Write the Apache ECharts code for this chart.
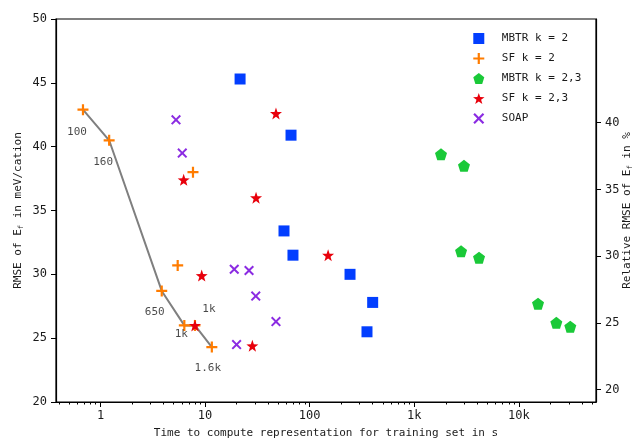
<!DOCTYPE html>
<html>
<head>
<meta charset="utf-8">
<script src="https://cdn.jsdelivr.net/npm/echarts@6/dist/echarts.min.js"></script>
<style>
html,body{margin:0;padding:0;background:#fff;}
#chart{width:641px;height:441px;}
</style>
</head>
<body>
<div id="chart"></div>
<script>
// data: x = time in s, y = RMSE in meV/cation
var mbtr2Time = [21.6, 66.3, 56.8, 69.2, 243, 400, 353];
var mbtr2Rmse = [45.3, 40.9, 33.4, 31.5, 30.0, 27.8, 25.5];

var sf2Time = [0.68, 1.21, 3.85, 6.33, 8.0, 11.6, 7.66, 5.47];
var sf2Rmse = [42.9, 40.5, 28.7, 26.0, 26.0, 24.3, 38.0, 30.7];

var mbtr23Time = [1800, 2985, 2800, 4160, 15240, 22800, 31000];
var mbtr23Rmse = [39.4, 38.5, 31.8, 31.3, 27.7, 26.2, 25.9];

var sf23Time = [47.6, 6.24, 30.7, 9.28, 150, 8.0, 28.3];
var sf23Rmse = [42.6, 37.4, 36.0, 29.9, 31.5, 26.0, 24.4];

var soapTime = [5.27, 6.05, 19.0, 26.3, 30.5, 47.6, 20.0];
var soapRmse = [42.1, 39.5, 30.4, 30.3, 28.3, 26.3, 24.5];

// SF k=2 learning curve (connected points) and its training set sizes
var curveTime = [0.68, 1.21, 3.85, 6.33, 8.0, 11.6];
var curveRmse = [42.9, 40.5, 28.7, 26.0, 26.0, 24.3];

var annoTime = [0.68, 1.21, 3.85, 6.33, 8.0, 11.6];
var annoRmse = [42.9, 40.5, 28.7, 26.0, 26.0, 24.3];
var annoText = ['100', '160', '650', '1k', '1k', '1.6k'];
var annoOffset = [[-6, 22], [-6, 22], [-7, 21], [-3, 9], [14, -16], [-4, 21]];

var xMajor = [1, 10, 100, 1000, 10000];
var xMajorText = ['1', '10', '100', '1k', '10k'];
var yRightTicks = [20, 25, 30, 35, 40];

var xMinor = [];
[0.1, 1, 10, 100, 1000, 10000].forEach(function (d) {
	for (var k = 2; k <= 9; k++) xMinor.push(d * k);
});

function pairs(xs, ys) {
	return xs.map(function (x, i) { return [x, ys[i]]; });
}

var FONT = 'DejaVu Sans Mono';
var TXT = '#1a1a1a';

var squarePath = 'path://M0,0H10V10H0Z';
var plusPath = 'path://M4,0H6V4H10V6H6V10H4V6H0V4H4Z';
var crossPath = 'path://M0,1.4L1.4,0L5,3.6L8.6,0L10,1.4L6.4,5L10,8.6L8.6,10L5,6.4L1.4,10L0,8.6L3.6,5Z';
var pentPath = 'path://M5,0L10,3.82L8.09,10L1.91,10L0,3.82Z';
var starPath = 'path://M5,0L6.176,3.382L9.755,3.455L6.902,5.618L7.939,9.045L5,7L2.061,9.045L3.098,5.618L0.245,3.455L3.824,3.382Z';

var myChart = echarts.init(document.getElementById('chart'));

var option = {
	backgroundColor: '#fff',
	animation: false,
	textStyle: {fontFamily: FONT, color: TXT},
	grid: {
		left: 56, right: 45, top: 19, bottom: 39,
		outerBoundsMode: 'none',
		containLabel: false,
		show: true, borderColor: '#000', borderWidth: 1.2
	},
	legend: {
		orient: 'vertical',
		left: 468, top: 28,
		itemWidth: 36, itemHeight: 11, itemGap: 9,
		symbolKeepAspect: true,
		textStyle: {fontFamily: FONT, fontSize: 11, color: TXT},
		data: [
			{name: 'MBTR k = 2', icon: squarePath},
			{name: 'SF k = 2', icon: plusPath},
			{name: 'MBTR k = 2,3', icon: pentPath},
			{name: 'SF k = 2,3', icon: starPath},
			{name: 'SOAP', icon: crossPath}
		]
	},
	xAxis: [
		{
			type: 'log', logBase: 10,
			min: 0.3755, max: 54600,
			position: 'bottom',
			name: 'Time to compute representation for training set in s',
			nameLocation: 'middle', nameGap: 26, nameMoveOverlap: false,
			nameTextStyle: {fontFamily: FONT, fontSize: 11, color: TXT},
			axisLine: {show: true, lineStyle: {color: '#000', width: 1.2}},
			axisTick: {show: true, length: 5, inside: false, customValues: xMajor, lineStyle: {color: '#000'}},
			axisLabel: {
				customValues: xMajor, margin: 8,
				fontFamily: FONT, fontSize: 12, color: TXT,
				formatter: function (v) {
					var i = Math.round(Math.log(v) / Math.LN10);
					return xMajorText[i] || '';
				}
			},
			splitLine: {show: false}
		},
		{
			type: 'log', logBase: 10,
			min: 0.3755, max: 54600,
			position: 'bottom',
			axisLine: {show: false},
			axisTick: {show: true, length: 2.5, customValues: xMinor, lineStyle: {color: '#000'}},
			axisLabel: {show: false},
			splitLine: {show: false}
		}
	],
	yAxis: [
		{
			type: 'value', min: 20, max: 50, interval: 5,
			position: 'left',
			name: 'RMSE of E{sub|f} in meV/cation',
			nameLocation: 'middle', nameGap: 31, nameMoveOverlap: false,
			nameTextStyle: {fontFamily: FONT, fontSize: 11, color: TXT,
				rich: {sub: {fontFamily: FONT, fontSize: 7, color: TXT, verticalAlign: 'bottom', padding: [6, 0, 0, 0]}}},
			axisLine: {show: true, lineStyle: {color: '#000', width: 1.2}},
			axisTick: {show: true, length: 5, lineStyle: {color: '#000'}},
			axisLabel: {margin: 9, fontFamily: FONT, fontSize: 12, color: TXT},
			splitLine: {show: false}
		},
		{
			type: 'value', min: 19.07, max: 47.77,
			position: 'right',
			name: 'Relative RMSE of E{sub|f} in %',
			nameLocation: 'middle', nameGap: 25, nameMoveOverlap: false,
			nameTextStyle: {fontFamily: FONT, fontSize: 11, color: TXT,
				rich: {sub: {fontFamily: FONT, fontSize: 7, color: TXT, verticalAlign: 'bottom', padding: [6, 0, 0, 0]}}},
			axisLine: {show: true, lineStyle: {color: '#000', width: 1.2}},
			axisTick: {show: true, length: 5, customValues: yRightTicks, lineStyle: {color: '#000'}},
			axisLabel: {customValues: yRightTicks, margin: 9, fontFamily: FONT, fontSize: 12, color: TXT},
			splitLine: {show: false}
		}
	],
	series: [
		{
			name: 'curve', type: 'line', z: 1,
			data: pairs(curveTime, curveRmse),
			symbol: 'none',
			lineStyle: {color: '#7f7f7f', width: 2},
			silent: true
		},
		{
			name: 'MBTR k = 2', type: 'scatter', z: 3,
			symbol: squarePath, symbolSize: 11,
			itemStyle: {color: '#023eff', opacity: 1},
			data: pairs(mbtr2Time, mbtr2Rmse)
		},
		{
			name: 'SF k = 2', type: 'scatter', z: 3,
			symbol: plusPath, symbolSize: 11,
			itemStyle: {color: '#ff7c00', opacity: 1},
			data: pairs(sf2Time, sf2Rmse)
		},
		{
			name: 'MBTR k = 2,3', type: 'scatter', z: 3,
			symbol: pentPath, symbolSize: 12,
			itemStyle: {color: '#1ac938', opacity: 1},
			data: pairs(mbtr23Time, mbtr23Rmse)
		},
		{
			name: 'SF k = 2,3', type: 'scatter', z: 4,
			symbol: starPath, symbolSize: 12,
			itemStyle: {color: '#e8000b', opacity: 1},
			data: pairs(sf23Time, sf23Rmse)
		},
		{
			name: 'SOAP', type: 'scatter', z: 3,
			symbol: crossPath, symbolSize: 10,
			itemStyle: {color: '#8b2be2', opacity: 1},
			data: pairs(soapTime, soapRmse)
		},
		{
			name: 'labels', type: 'scatter', z: 5, silent: true,
			symbolSize: 1,
			itemStyle: {color: 'rgba(0,0,0,0)'},
			data: annoTime.map(function (t, i) {
				return {
					value: [t, annoRmse[i]],
					label: {
						show: true, position: 'inside', offset: annoOffset[i],
						formatter: annoText[i],
						fontFamily: FONT, fontSize: 11, color: TXT
					}
				};
			})
		}
	]
};

myChart.setOption(option);
window.onresize = myChart.resize;
</script>
</body>
</html>
